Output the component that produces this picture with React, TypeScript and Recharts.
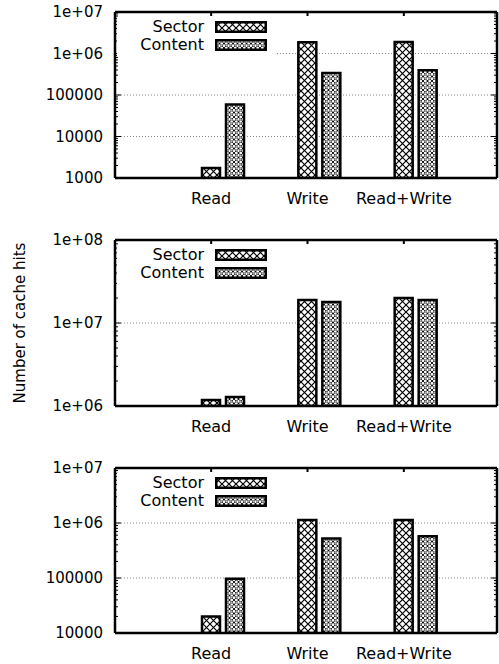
import React from "react";
import { BarChart, Bar, XAxis, YAxis, CartesianGrid } from "recharts";

const categories = ["Read", "Write", "Read+Write"];

// top panel
const sectorA = [1750, 1860000, 1880000];
const contentA = [59000, 340000, 395000];
// middle panel
const sectorB = [1180000, 18900000, 20000000];
const contentB = [1280000, 17900000, 18900000];
// bottom panel
const sectorC = [20000, 1130000, 1130000];
const contentC = [97000, 520000, 575000];

const ticksA = [1000, 10000, 100000, 1000000, 10000000];
const ticksB = [1000000, 10000000, 100000000];
const ticksC = [10000, 100000, 1000000, 10000000];

const FONT = "'DejaVu Sans', sans-serif";
const SHIFT = 12; // category tick sits under the Sector bar, not the group centre

const fmt = (v: number) =>
  v >= 1e6 ? "1e+" + String(Math.round(Math.log10(v))).padStart(2, "0") : String(v);

// log minor ticks 2..9 inside each decade
function withMinors(majors: number[]) {
  const out: number[] = [];
  majors.forEach((m, i) => {
    out.push(m);
    if (i < majors.length - 1) for (let k = 2; k < 10; k++) out.push(m * k);
  });
  return out;
}

function Key() {
  const rows = [
    ["Sector", "url(#hatchSector)"],
    ["Content", "url(#hatchContent)"],
  ];
  return (
    <div
      style={{
        position: "absolute",
        left: 117,
        top: 17,
        width: 160,
        height: 39,
        background: "#fff",
        fontFamily: FONT,
        fontSize: 16,
        color: "#000",
      }}
    >
      {rows.map(([name, fill], i) => {
        const cy = 9.5 + i * 18.5;
        return (
          <React.Fragment key={name}>
            <span
              style={{
                position: "absolute",
                right: 73,
                top: cy - 9,
                lineHeight: "18px",
                whiteSpace: "nowrap",
              }}
            >
              {name}
            </span>
            <svg
              width={52}
              height={12}
              style={{ position: "absolute", left: 98, top: cy - 6 }}
            >
              <rect x={1.25} y={1.25} width={49.5} height={9.5} fill={fill} stroke="#000" strokeWidth={2.5} />
            </svg>
          </React.Fragment>
        );
      })}
    </div>
  );
}

interface PanelProps {
  sector: number[];
  content: number[];
  ticks: number[];
  top: number;
  height: number;
  bottom: number;
  yLabel?: string;
}

function Panel({ sector, content, ticks, top, height, bottom, yLabel }: PanelProps) {
  const data = categories.map((name, i) => ({ name, sector: sector[i], content: content[i] }));
  const allTicks = withMinors(ticks);
  const domain = [ticks[0], ticks[ticks.length - 1]];
  const pad = { left: 48 + SHIFT, right: 45 - SHIFT };
  const frame = { stroke: "#000", strokeWidth: 2.5 };

  return (
    <div style={{ position: "absolute", left: 0, top, width: 499, height }}>
      <BarChart
        width={499}
        height={height}
        data={data}
        margin={{ top: 12, right: 2, left: 0, bottom }}
        barSize={18}
        barGap={6}
        baseValue="dataMin"
      >
        <CartesianGrid
          vertical={false}
          horizontalValues={ticks}
          stroke="#888"
          strokeDasharray="1 2"
        />
        <XAxis
          dataKey="name"
          padding={pad}
          height={30}
          axisLine={frame}
          tickLine={false}
          tickSize={0}
          tickMargin={15}
          interval={0}
          tick={(p: any) => (
            <text x={p.x - SHIFT} y={p.y} dy="0.71em" textAnchor="middle" fontFamily={FONT} fontSize={16} fill="#000">
              {p.payload.value}
            </text>
          )}
        />
        <XAxis
          xAxisId="top"
          orientation="top"
          dataKey="name"
          padding={pad}
          height={1}
          mirror
          axisLine={frame}
          tickLine={false}
          tickSize={0}
          tickMargin={0}
          interval={0}
          tick={(p: any) => (
            <line x1={p.x - SHIFT} x2={p.x - SHIFT} y1={p.y} y2={p.y + 4} stroke="#000" strokeWidth={2} />
          )}
        />
        <YAxis
          type="number"
          scale="log"
          domain={domain}
          allowDataOverflow
          ticks={allTicks}
          interval={0}
          width={115}
          axisLine={frame}
          tickLine={false}
          tickSize={0}
          tickMargin={12}
          tick={(p: any) => {
            const major = ticks.includes(p.payload.value);
            const ax = p.x + 12;
            return (
              <g>
                <line x1={ax} x2={ax + (major ? 6 : 3)} y1={p.y} y2={p.y} stroke="#000" />
                {major && (
                  <text x={p.x} y={p.y} dy="0.36em" textAnchor="end" fontFamily={FONT} fontSize={15} fill="#000">
                    {fmt(p.payload.value)}
                  </text>
                )}
              </g>
            );
          }}
        />
        <YAxis
          yAxisId="right"
          orientation="right"
          type="number"
          scale="log"
          domain={domain}
          allowDataOverflow
          ticks={allTicks}
          interval={0}
          width={1}
          mirror
          axisLine={frame}
          tickLine={false}
          tickSize={0}
          tickMargin={0}
          tick={(p: any) => {
            const major = ticks.includes(p.payload.value);
            return <line x1={p.x} x2={p.x - (major ? 6 : 3)} y1={p.y} y2={p.y} stroke="#000" />;
          }}
        />
        <Bar dataKey="sector" name="Sector" fill="url(#hatchSector)" stroke="#000" strokeWidth={2.5} isAnimationActive={false} />
        <Bar dataKey="content" name="Content" fill="url(#hatchContent)" stroke="#000" strokeWidth={2.5} isAnimationActive={false} />
      </BarChart>
      <Key />
      {yLabel && (
        <div
          style={{
            position: "absolute",
            left: 20,
            top: 95,
            transform: "translate(-50%, -50%) rotate(-90deg)",
            whiteSpace: "nowrap",
            fontFamily: FONT,
            fontSize: 15,
            color: "#000",
          }}
        >
          {yLabel}
        </div>
      )}
    </div>
  );
}

export default function App() {
  return (
    <div
      style={{
        position: "absolute",
        left: 0,
        top: 0,
        width: 499,
        height: 664,
        overflow: "hidden",
        background: "#fff",
      }}
    >
      <svg width={0} height={0} style={{ position: "absolute" }}>
        <defs>
          <pattern id="hatchSector" patternUnits="userSpaceOnUse" width={7} height={7}>
            <rect width={7} height={7} fill="#fff" />
            <path d="M0,0 L7,7 M7,0 L0,7" stroke="#000" strokeWidth={1.2} />
          </pattern>
          <pattern id="hatchContent" patternUnits="userSpaceOnUse" width={4.5} height={4.5}>
            <rect width={4.5} height={4.5} fill="#fff" />
            <path d="M0,0 L4.5,4.5 M4.5,0 L0,4.5" stroke="#000" strokeWidth={0.9} />
            <circle cx={2.25} cy={2.25} r={0.9} fill="#fff" stroke="#000" strokeWidth={0.5} />
          </pattern>
        </defs>
      </svg>
      <Panel sector={sectorA} content={contentA} ticks={ticksA} top={0} height={228} bottom={20} />
      <Panel sector={sectorB} content={contentB} ticks={ticksB} top={228} height={228} bottom={20} yLabel="Number of cache hits" />
      <Panel sector={sectorC} content={contentC} ticks={ticksC} top={456} height={208} bottom={1} />
    </div>
  );
}
